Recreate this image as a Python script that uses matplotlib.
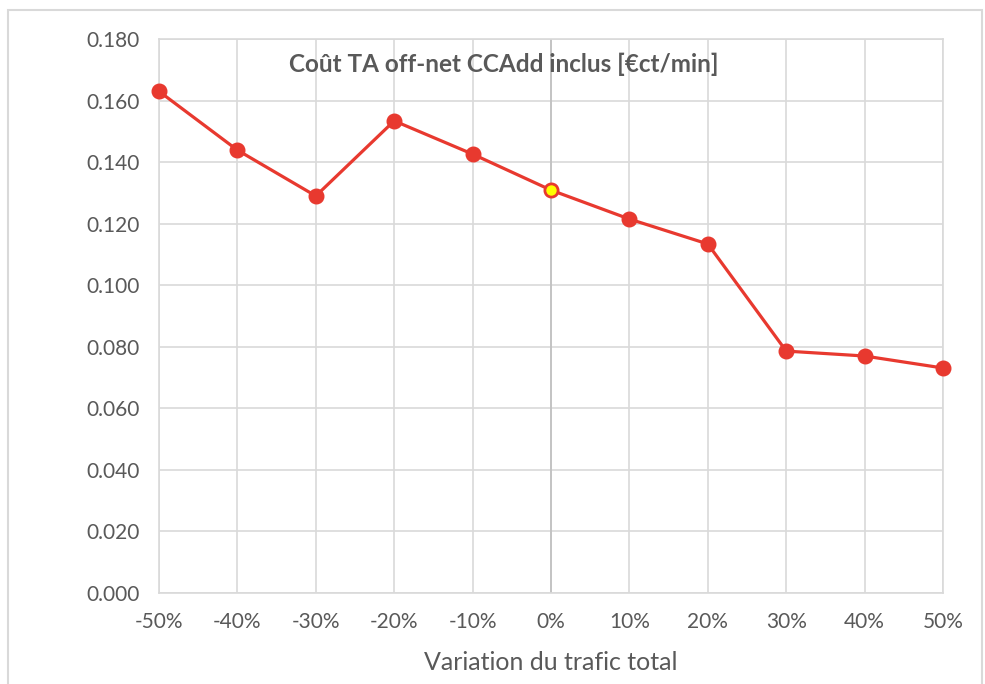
import matplotlib
matplotlib.use('Agg')
import matplotlib.pyplot as plt
from matplotlib.patches import Rectangle

# data
variations = ['-50%', '-40%', '-30%', '-20%', '-10%', '0%', '10%', '20%', '30%', '40%', '50%']
cost = [0.163, 0.1439, 0.129, 0.1534, 0.1426, 0.1309, 0.1215, 0.1134, 0.0786, 0.0770, 0.0731]
yticks = [0.0, 0.02, 0.04, 0.06, 0.08, 0.10, 0.12, 0.14, 0.16, 0.18]
baseIdx = variations.index('0%')

RED = '#E8392F'
GREY_TXT = '#595959'
GRID = '#D9D9D9'

plt.rcParams['font.family'] = ['Lato', 'DejaVu Sans']

fig = plt.figure(figsize=(9.85, 6.84), dpi=100)
fig.patches.append(Rectangle((8 / 985, -0.1), 974 / 985, 1.1 - 10 / 684, transform=fig.transFigure,
                             fill=False, edgecolor=GRID, linewidth=1.5))

ax = fig.add_axes([159 / 985, 91 / 684, 784 / 985, 554 / 684])
x = list(range(len(variations)))

ax.plot(x, cost, color=RED, linewidth=2.3, marker='o', markersize=10.5,
        markerfacecolor=RED, markeredgecolor=RED, zorder=3, clip_on=False)
ax.plot([baseIdx], [cost[baseIdx]], linestyle='none', marker='o', markersize=9,
        markerfacecolor='#FFFF00', markeredgecolor=RED, markeredgewidth=1.5, zorder=4)

ax.set_xlim(0, len(variations) - 1)
ax.set_ylim(0, 0.18)
ax.set_xticks(x)
ax.set_xticklabels(variations)
ax.set_yticks(yticks)
ax.set_yticklabels(['%.3f' % v for v in yticks])

ax.grid(True, color=GRID, linewidth=1.2)
ax.axvline(baseIdx, color='#BFBFBF', linewidth=1.2, zorder=1)
ax.set_axisbelow(True)
for s in ax.spines.values():
    s.set_color(GRID)
    s.set_linewidth(1.2)

ax.tick_params(length=0, labelsize=15, colors=GREY_TXT, pad=14)
ax.tick_params(axis='x', pad=14)
ax.set_xlabel('Variation du trafic total', fontsize=18, color=GREY_TXT, labelpad=13)

ax.text(0.44, 0.955, 'Coût TA off-net CCAdd inclus [€ct/min]', transform=ax.transAxes,
        ha='center', va='center', fontsize=17.5, fontweight='bold', color=GREY_TXT)

fig.savefig('out.png', dpi=100)
